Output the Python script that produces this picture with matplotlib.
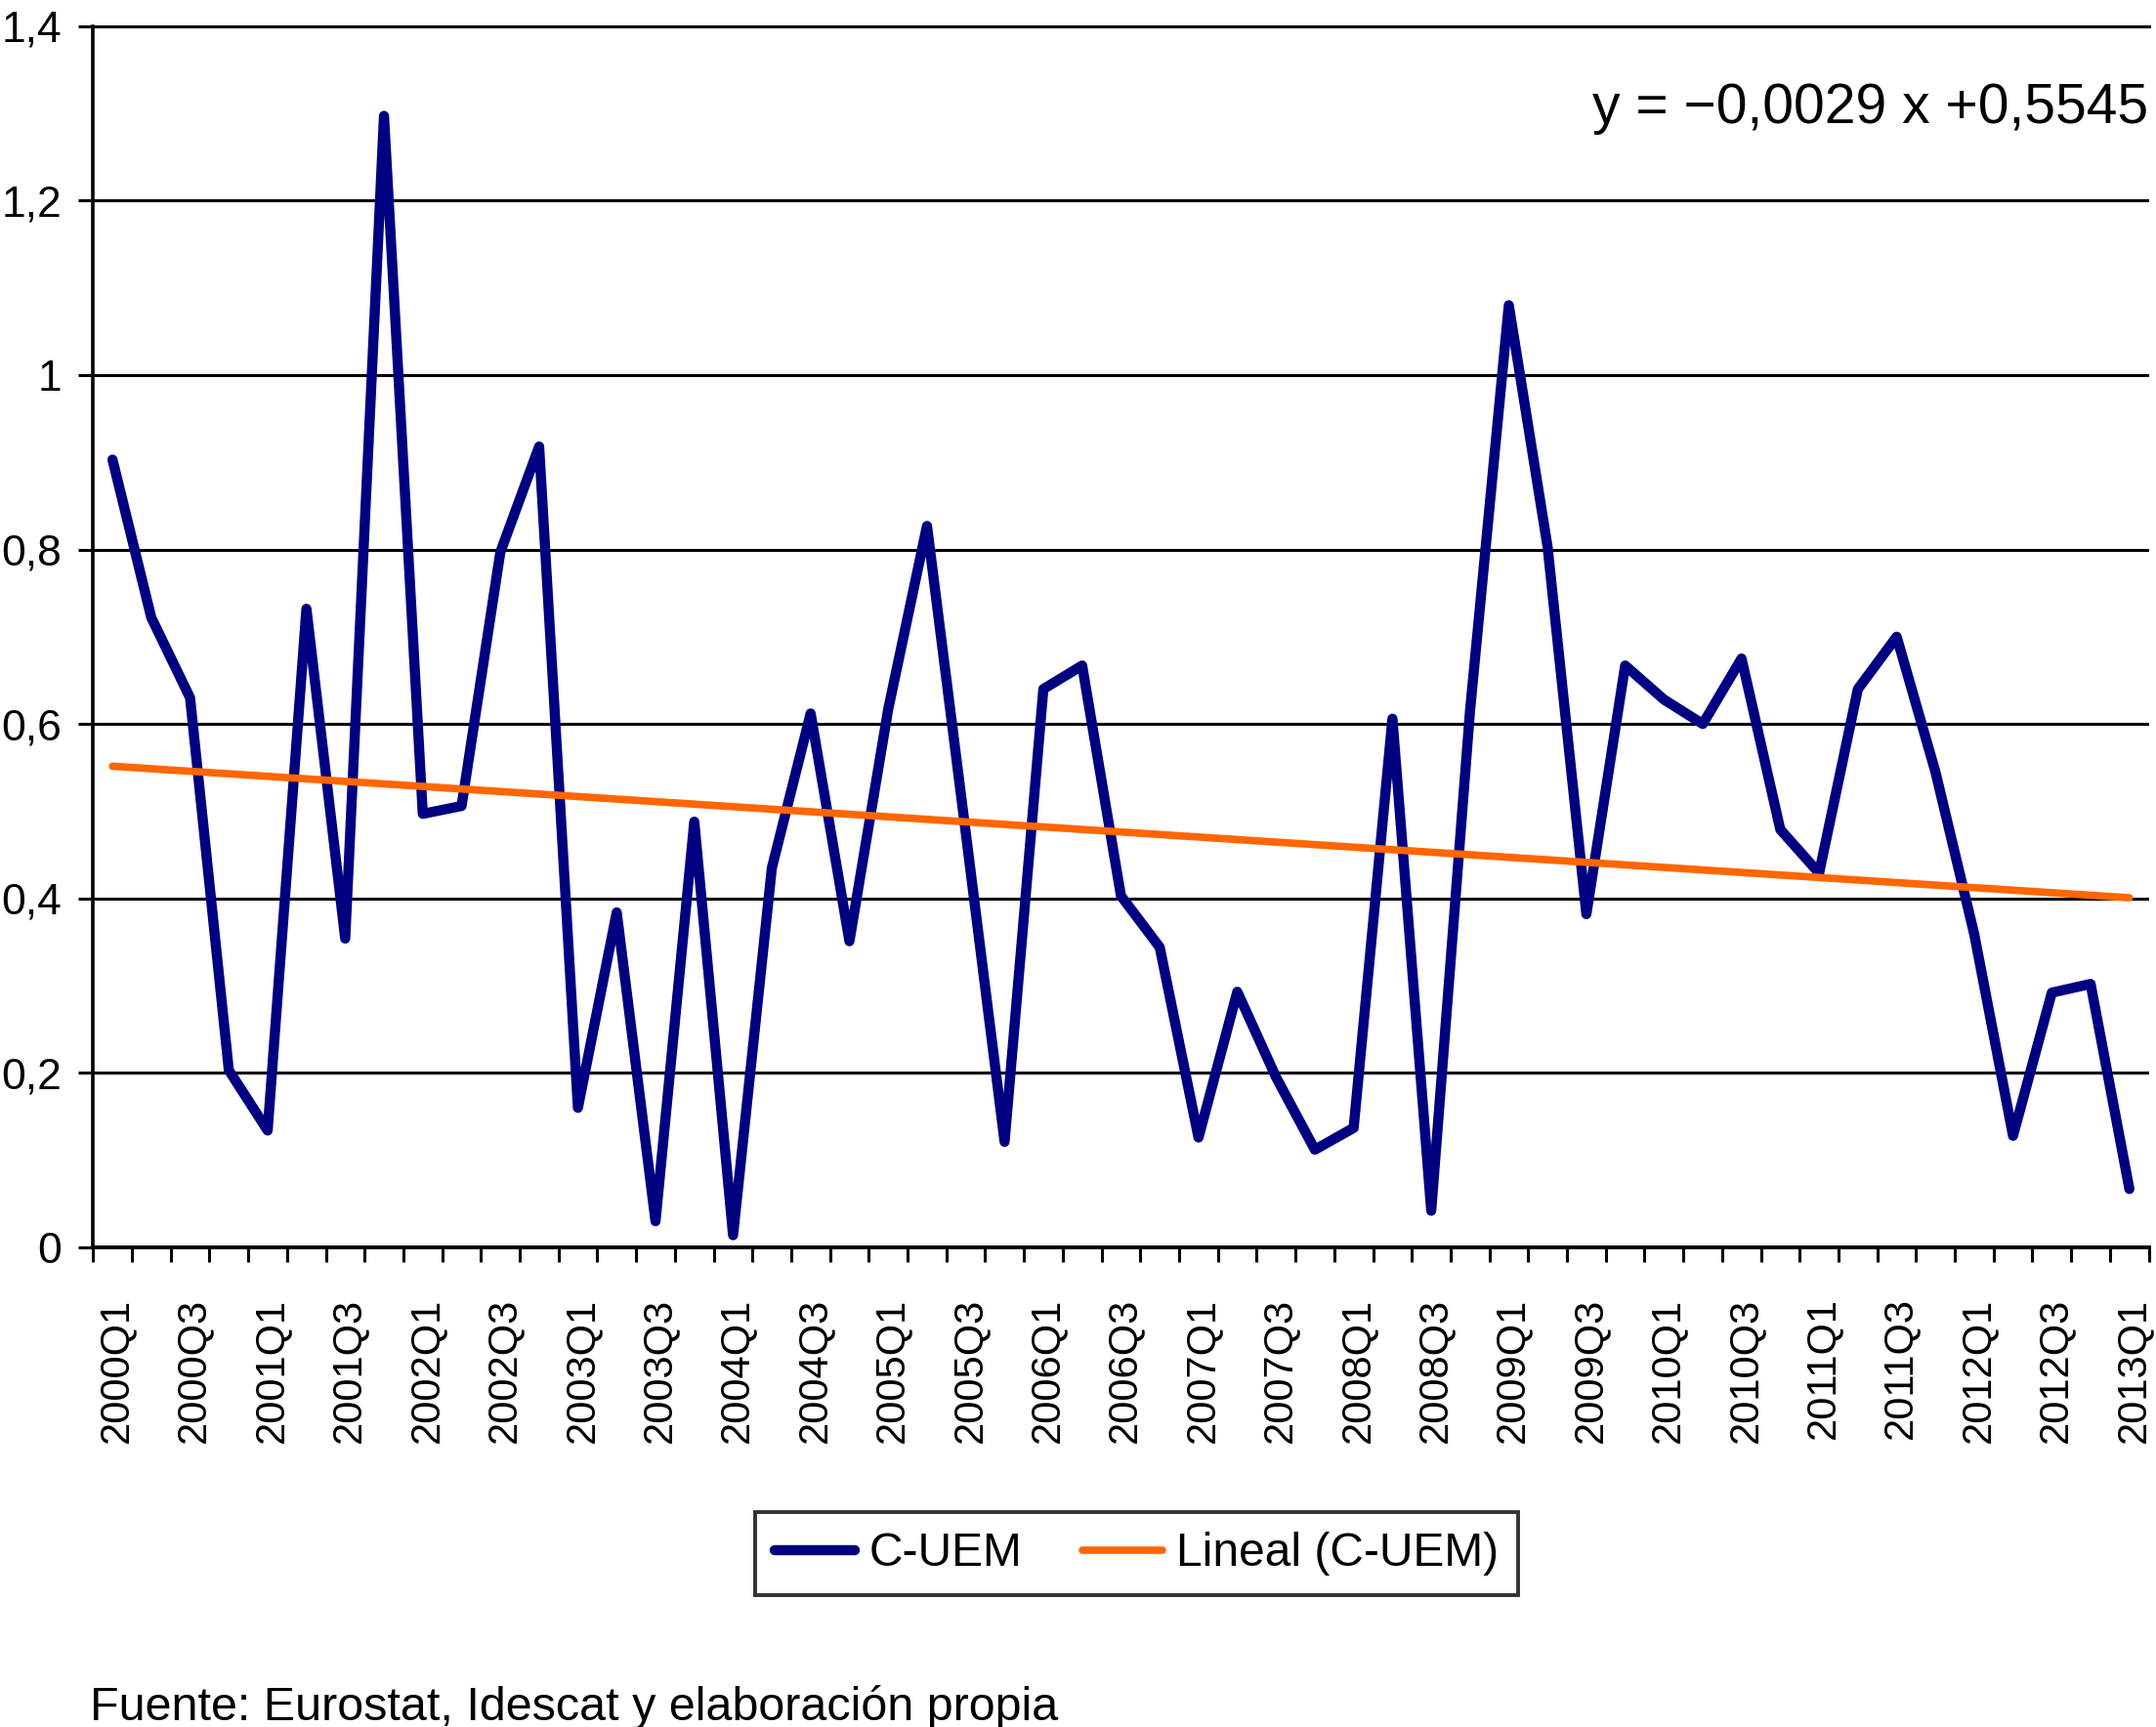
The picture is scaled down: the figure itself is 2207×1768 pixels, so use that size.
import matplotlib
matplotlib.use("Agg")
import matplotlib.pyplot as plt
from matplotlib.transforms import ScaledTranslation
import numpy as np

# quarterly series C-UEM, 2000Q1 .. 2013Q1
quarters = [f"{y}Q{q}" for y in range(2000, 2014) for q in range(1, 5)][:53]
c_uem = [0.903, 0.722, 0.630, 0.203, 0.134, 0.732, 0.354, 1.297,
         0.497, 0.506, 0.797, 0.918, 0.160, 0.384, 0.030, 0.488,
         0.014, 0.435, 0.612, 0.351, 0.617, 0.827, 0.475, 0.121,
         0.640, 0.667, 0.403, 0.344, 0.126, 0.293, 0.195, 0.112,
         0.137, 0.606, 0.042, 0.615, 1.080, 0.803, 0.382, 0.667,
         0.628, 0.600, 0.675, 0.479, 0.429, 0.640, 0.700, 0.545,
         0.359, 0.128, 0.292, 0.302, 0.067]

# linear trend as printed on the chart
slope = -0.0029
intercept = 0.5545
eq_text = "y = \u22120,0029 x +0,5545"

y_ticks = [0, 0.2, 0.4, 0.6, 0.8, 1.0, 1.2, 1.4]
y_labels = ["0", "0,2", "0,4", "0,6", "0,8", "1", "1,2", "1,4"]

plt.rcParams['font.family'] = ['Liberation Sans', 'DejaVu Sans']

x = np.arange(1, len(c_uem) + 1)
trend = slope * x + intercept

fig = plt.figure(figsize=(22.07, 17.68), dpi=100)
ax = fig.add_axes([0.04318, 0.27771, 0.95347, 0.70719])

ax.plot(x, c_uem, color='#000080', lw=7.5, solid_joinstyle='round',
        solid_capstyle='round', label='C-UEM', zorder=3)
ax.plot(x, trend, color='#FF6600', lw=5.5, solid_capstyle='round',
        label='Lineal (C-UEM)', zorder=4)

ax.set_xlim(0.5, len(c_uem) + 0.5)
ax.set_ylim(0, 1.4)

ax.set_yticks(y_ticks)
ax.set_yticklabels(y_labels, fontsize=32)
ax.grid(axis='y', color='black', lw=2.2)
ax.set_axisbelow(True)

ax.set_xticks(x[::2])
ax.set_xticklabels(quarters[::2], rotation=90, fontsize=30)
ax.set_xticks(np.arange(0.5, len(c_uem) + 1, 1), minor=True)
ax.tick_params(axis='x', which='major', length=0, pad=37)
ax.tick_params(axis='x', which='minor', length=11, width=2.2, direction='out')
ax.tick_params(axis='y', length=11, width=2.2, direction='out', pad=12)
for lbl in ax.get_xticklabels():
    lbl.set_transform(lbl.get_transform() + ScaledTranslation(0.04, 0, fig.dpi_scale_trans))

ax.spines['right'].set_visible(False)
ax.spines['top'].set_linewidth(2.2)
ax.spines['left'].set_linewidth(2.6)
ax.spines['bottom'].set_linewidth(2.8)

ax.text(len(c_uem) + 0.5, 1.289, eq_text, ha='right', va='baseline', fontsize=41)

leg = fig.legend(loc='center', bbox_to_anchor=(0.5273, 0.1002), ncol=2,
                 fontsize=34.5, frameon=True, fancybox=False,
                 edgecolor='black', handlelength=1.7, handletextpad=0.3,
                 columnspacing=1.3, borderpad=0.42)
leg.get_frame().set_linewidth(2.8)

fig.text(0.0417, 0.004, "Fuente: Eurostat, Idescat y elaboración propia",
         fontsize=34.9, ha='left', va='baseline')

fig.savefig("out.png", dpi=100)
